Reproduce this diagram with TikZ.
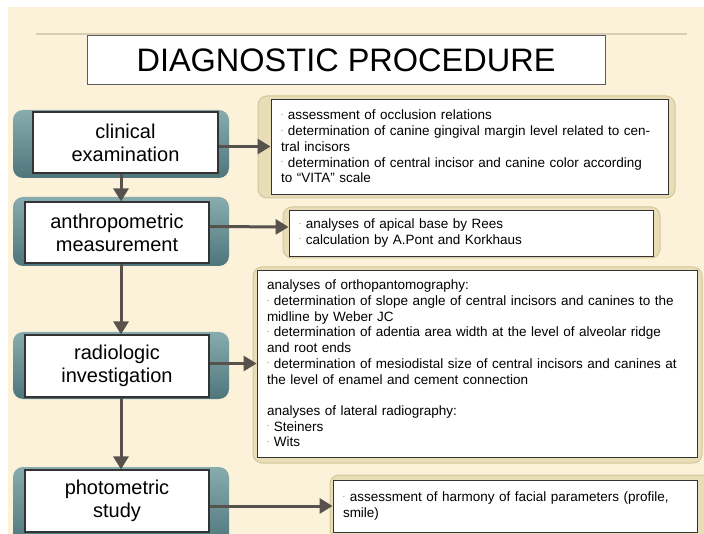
\documentclass[tikz,border=0pt]{standalone}
\usepackage{fontspec}
\setmainfont{Liberation Sans}
\newfontfamily\listfont{Liberation Sans}[WordSpace=0.8]
\usetikzlibrary{arrows.meta}

\definecolor{cream}{HTML}{FCF2D9}
\definecolor{ruleline}{HTML}{D8CFB2}
\definecolor{tealtop}{HTML}{88ACAE}
\definecolor{tealbot}{HTML}{4E767B}
\definecolor{tanfill}{HTML}{E8DDB6}
\definecolor{tanline}{HTML}{D3C79C}
\definecolor{boxline}{HTML}{333333}
\definecolor{arrgray}{HTML}{57524C}

% small raised dot in front of each item
\newcommand{\bul}{{\fontsize{6.5}{6.5}\selectfont\raisebox{4.5pt}{.}}\hspace{5pt}}

\begin{document}
\begin{tikzpicture}[x=1pt,y=-1pt,
  titlebox/.style={draw=boxline!80, line width=1pt, fill=white, minimum width=518pt, minimum height=49pt, inner sep=0pt, font=\fontsize{32.5}{36}\selectfont},
  stepbg/.style={rounded corners=10pt, top color=tealtop, bottom color=tealbot, minimum width=216pt, inner sep=0pt},
  stepbox/.style={draw=boxline, line width=1.2pt, fill=white, align=center, minimum width=184pt, minimum height=61pt, inner sep=0pt, font=\fontsize{20}{23}\selectfont},
  listbg/.style={rounded corners=9pt, fill=tanfill, draw=tanline, line width=1pt, inner sep=0pt},
  listbox/.style={draw=boxline, line width=0.9pt, fill=white, align=left, inner xsep=10pt, inner ysep=0pt, font=\listfont\fontsize{13.5}{15.7}\selectfont},
  arr/.style={draw=arrgray, line width=3pt, -{Triangle[length=13pt,width=15pt]}},
]
\useasboundingbox (0,0) rectangle (704,534);
\fill[cream] (8,7) rectangle (704,534);
\draw[ruleline, line width=2pt] (36,34) -- (687,34);

\node[titlebox] (title) at (346,60.5) {DIAGNOSTIC PROCEDURE};

% left column
\node[stepbg, minimum height=68pt] (clinbg) at (121,144) {};
\node[stepbg, minimum height=69pt] (anthrobg) at (121,231.5) {};
\node[stepbg, minimum height=67pt] (radiobg) at (121,365.5) {};
\node[stepbg, minimum height=78pt] (photobg) at (121,506) {};

\node[stepbox, minimum width=185pt] (clin) at (125.5,142.5) {clinical\\examination};
\node[stepbox] (anthro) at (117,232.5) {anthropometric\\measurement};
\node[stepbox, minimum height=62pt] (radio) at (117,366) {radiologic\\investigation};
\node[stepbox, minimum height=62pt] (photo) at (117,501) {photometric\\study};

% right column
\node[listbg, minimum width=417pt, minimum height=102pt] (d1bg) at (466.5,147) {};
\node[listbg, minimum width=377pt, minimum height=51pt] (d2bg) at (471.5,232.5) {};
\node[listbg, minimum width=449pt, minimum height=196pt] (d3bg) at (477.5,365) {};
\node[listbg, minimum width=380pt, minimum height=63pt] (d4bg) at (520,506.5) {};

\node[listbox, text width=377pt, minimum height=95pt] (d1) at (469.5,146.5)
  {\bul assessment of occlusion relations\\
   \bul determination of canine gingival margin level related to cen-\\
   tral incisors\\
   \bul determination of central incisor and canine color according\\
   to “VITA” scale};
\node[listbox, text width=344pt, minimum height=46pt] (d2) at (471,233)
  {\bul analyses of apical base by Rees\\
   \bul calculation by A.Pont and Korkhaus};
\node[listbox, text width=420pt, minimum height=187pt] (d3) at (477,363.5)
  {analyses of orthopantomography:\\
   \bul determination of slope angle of central incisors and canines to the\\
   midline by Weber JC\\
   \bul determination of adentia area width at the level of alveolar ridge\\
   and root ends\\
   \bul determination of mesiodistal size of central incisors and canines at\\
   the level of enamel and cement connection\\[15.7pt]
   analyses of lateral radiography:\\
   \bul Steiners\\
   \bul Wits};
\node[listbox, text width=344pt, minimum height=52pt] (d4) at (515,506)
  {\bul assessment of harmony of facial parameters (profile,\\
   smile)};

% arrows
\draw[arr] (clin.south -| clinbg.south) -- (anthro.north -| anthrobg.north);
\draw[arr] (anthro.south -| anthrobg.south) -- (radio.north -| radiobg.north);
\draw[arr] (radio.south -| radiobg.south) -- (photo.north -| photobg.north);

\draw[arr] (clin.east |- d1.west) -- (d1.west);
\draw[arr] ([yshift=6pt]anthro.east) -- ([yshift=6pt]d2.west);
\draw[arr] (radio.east |- d3.west) -- (d3.west);
\draw[arr] (photo.east |- d4.west) -- (d4.west);
\end{tikzpicture}
\end{document}
